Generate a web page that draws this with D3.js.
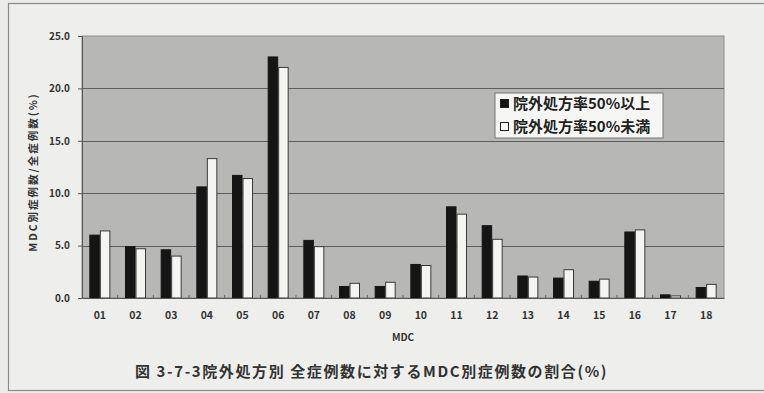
<!DOCTYPE html>
<html>
<head>
<meta charset="utf-8">
<script src="https://cdn.jsdelivr.net/npm/d3@7"></script>
<style>
  html, body { margin: 0; padding: 0; background: #e9e9e7; }
  svg { display: block; }
  text { font-family: "Noto Sans CJK JP", "Noto Sans", sans-serif; }
</style>
</head>
<body>
<svg id="chart" width="764" height="393"></svg>
<script>
// MDC categories and share of cases (%) by out-of-hospital prescription rate
const categories = ["01","02","03","04","05","06","07","08","09","10","11","12","13","14","15","16","17","18"];
const seriesNames = ["院外処方率50%以上", "院外処方率50%未満"];
const over50  = [6.0, 4.9, 4.6, 10.6, 11.7, 23.0, 5.5, 1.1, 1.1, 3.2, 8.7, 6.9, 2.1, 1.9, 1.6, 6.3, 0.3, 1.0];
const under50 = [6.4, 4.7, 4.0, 13.3, 11.4, 22.0, 4.9, 1.4, 1.5, 3.1, 8.0, 5.6, 2.0, 2.7, 1.8, 6.5, 0.2, 1.3];
const yTicks = [0, 5, 10, 15, 20, 25];

const svg = d3.select("#chart");
const W = 764, H = 393;
const plot = { left: 82, right: 724, top: 36, bottom: 298 };

// outer frame
svg.append("rect").attr("x", 0).attr("y", 0).attr("width", W).attr("height", H).attr("fill", "#ebebe9");
svg.append("rect").attr("x", 8.5).attr("y", 3.5).attr("width", 770).attr("height", 387)
  .attr("fill", "#eeeeec").attr("stroke", "#8a8a8a").attr("stroke-width", 1.2);

const x = d3.scaleBand().domain(categories).range([plot.left, plot.right]).paddingInner(0).paddingOuter(0);
const inner = d3.scaleBand().domain([0, 1]).range([0, 21]);
const y = d3.scaleLinear().domain([0, 25]).range([plot.bottom, plot.top]);

// plot area
svg.append("rect").attr("x", plot.left).attr("y", plot.top)
  .attr("width", plot.right - plot.left).attr("height", plot.bottom - plot.top)
  .attr("fill", "#b7b7b5").attr("stroke", "#8d8d8b").attr("stroke-width", 1);

// gridlines
svg.append("g").selectAll("line").data(yTicks.filter(d => d > 0 && d < 25)).join("line")
  .attr("x1", plot.left).attr("x2", plot.right)
  .attr("y1", d => Math.round(y(d)) + 0.5).attr("y2", d => Math.round(y(d)) + 0.5)
  .attr("stroke", "#5e5e5e").attr("stroke-width", 1.2);

// bars
const rows = categories.map((c, i) => ({ c, v: [over50[i], under50[i]] }));
const groups = svg.append("g").selectAll("g").data(rows).join("g")
  .attr("transform", d => `translate(${x(d.c) + (x.bandwidth() - 21) / 2},0)`);
groups.selectAll("rect").data(d => d.v.map((v, k) => ({ v, k }))).join("rect")
  .attr("x", d => inner(d.k) + 0.5)
  .attr("y", d => y(d.v))
  .attr("width", inner.bandwidth() - 1)
  .attr("height", d => y(0) - y(d.v))
  .attr("fill", d => d.k === 0 ? "#151515" : "#f4f4f2")
  .attr("stroke", d => d.k === 0 ? "#151515" : "#3a3a3a")
  .attr("stroke-width", 1);

// y axis
const yAxis = d3.axisLeft(y).tickValues(yTicks).tickFormat(d3.format(".1f")).tickSize(4).tickPadding(8);
const gy = svg.append("g").attr("transform", `translate(${plot.left},0)`).call(yAxis);
gy.select(".domain").attr("stroke", "#555");
gy.selectAll(".tick line").attr("stroke", "#555");
gy.selectAll("text").attr("font-size", 10).attr("font-weight", "bold").attr("fill", "#333");

// x axis
const xAxis = d3.axisBottom(x).tickSize(0).tickPadding(14);
const gx = svg.append("g").attr("transform", `translate(0,${plot.bottom})`).call(xAxis);
gx.select(".domain").attr("stroke", "#555").attr("stroke-width", 1.2);
gx.selectAll("text").attr("font-size", 10.5).attr("font-weight", "bold").attr("fill", "#333");
// category boundary ticks
svg.append("g").selectAll("line").data(categories.slice(1)).join("line")
  .attr("x1", d => x(d)).attr("x2", d => x(d))
  .attr("y1", plot.bottom - 3).attr("y2", plot.bottom)
  .attr("stroke", "#666");

// axis titles
svg.append("text").attr("x", 403).attr("y", 341).attr("text-anchor", "middle")
  .attr("font-size", 10).attr("font-weight", "bold").attr("fill", "#333").text("MDC");
svg.append("text").attr("transform", "translate(37,172) rotate(-90)").attr("text-anchor", "middle")
  .attr("font-size", 10.5).attr("font-weight", "bold").attr("letter-spacing", 2).attr("fill", "#333")
  .text("MDC別症例数/全症例数(%)");

// legend
const lg = svg.append("g").attr("transform", "translate(495,93)");
lg.append("rect").attr("width", 168).attr("height", 45).attr("fill", "#f6f6f4")
  .attr("stroke", "#777").attr("stroke-width", 1);
seriesNames.forEach((name, i) => {
  const yy = 11 + i * 23;
  lg.append("rect").attr("x", 5.5).attr("y", yy - 4.5).attr("width", 8).attr("height", 8)
    .attr("fill", i === 0 ? "#151515" : "#fafafa").attr("stroke", "#222").attr("stroke-width", 1);
  lg.append("text").attr("x", 18).attr("y", yy).attr("dy", "0.36em")
    .attr("font-size", 15).attr("font-weight", "bold").attr("fill", "#222").text(name);
});

// figure caption
svg.append("text").attr("x", 135).attr("y", 372).attr("dy", "0.36em")
  .attr("font-size", 15).attr("font-weight", "bold").attr("letter-spacing", 1.6).attr("fill", "#333")
  .text("図 3-7-3院外処方別 全症例数に対するMDC別症例数の割合(%)");
</script>
</body>
</html>
